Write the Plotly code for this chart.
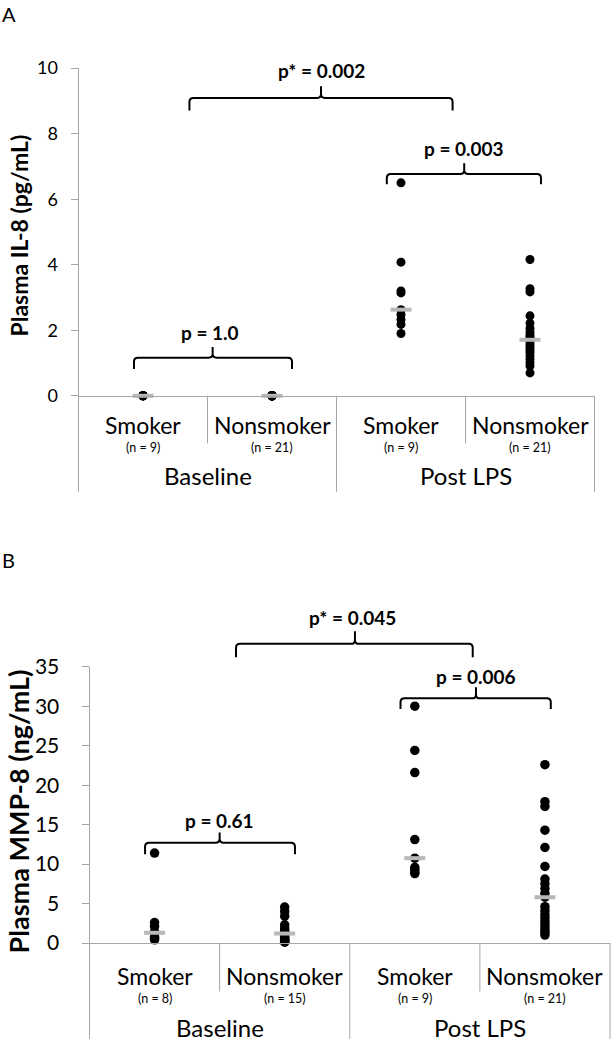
import numpy as np
import plotly.graph_objects as go

# ---------------- data ----------------
subgroups = ["Smoker", "Nonsmoker", "Smoker", "Nonsmoker"]
groups = ["Baseline", "Post LPS"]
il8_n = ["(n = 9)", "(n = 21)", "(n = 9)", "(n = 21)"]
mmp8_n = ["(n = 8)", "(n = 15)", "(n = 9)", "(n = 21)"]

il8_base_smoker = [0, 0, 0, 0, 0, 0, 0, 0, 0]
il8_base_nonsmoker = [0, 0, 0, 0, 0, 0, 0, 0, 0, 0, 0, 0, 0, 0, 0, 0, 0, 0, 0, 0, 0]
il8_lps_smoker = [6.50, 4.08, 3.20, 3.14, 2.63, 2.48, 2.33, 2.18, 1.90]
il8_lps_nonsmoker = [4.16, 3.27, 3.17, 2.44, 2.22, 2.06, 1.95, 1.86, 1.80, 1.75, 1.71,
                     1.65, 1.56, 1.48, 1.40, 1.32, 1.22, 1.12, 1.02, 0.91, 0.70]

mmp8_base_smoker = [11.4, 2.6, 2.1, 1.4, 1.2, 0.8, 0.6, 0.4]
mmp8_base_nonsmoker = [4.55, 4.0, 3.4, 2.3, 1.9, 1.6, 1.4, 1.2, 0.9, 0.7, 0.5, 0.4, 0.3, 0.2, 0.1]
mmp8_lps_smoker = [30.0, 24.4, 21.6, 13.1, 10.75, 9.6, 9.3, 9.0, 8.8]
mmp8_lps_nonsmoker = [22.6, 17.9, 17.3, 14.3, 12.1, 9.7, 8.1, 7.5, 6.9, 6.3, 5.8,
                      4.6, 4.1, 3.6, 3.2, 2.8, 2.4, 2.0, 1.6, 1.3, 1.0]

il8_yticks = [0, 2, 4, 6, 8, 10]
mmp8_yticks = [0, 5, 10, 15, 20, 25, 30, 35]

il8_p_labels = ["p = 1.0", "p = 0.003", "p* = 0.002"]
mmp8_p_labels = ["p = 0.61", "p = 0.006", "p* = 0.045"]

il8_title = "Plasma IL-8 (pg/mL)"
mmp8_title = "Plasma MMP-8 (ng/mL)"

# ---------------- layout geometry ----------------
W, H = 611, 1050
FONT = "Lato"
AXC = "#a6a6a6"


def py(px):
    return 1 - px / H


def pxx(px):
    return px / W


# bracket placements: (x_left, x_right, x_tip, y_hline, y_hook, y_tip, text_x, text_y)
il8_brackets = [
    (-0.07, 1.155, 0.54, 1.16, 0.82, 1.49, 0.52, 1.93),
    (1.89, 3.085, 2.49, 6.77, 6.46, 7.10, 2.49, 7.55),
    (0.36, 2.40, 1.38, 9.09, 8.71, 9.45, 1.38, 9.92),
]
mmp8_brackets = [
    (-0.073, 1.079, 0.50, 12.7, 11.25, 14.0, 0.50, 15.5),
    (1.89, 3.045, 2.47, 31.0, 29.65, 32.4, 2.47, 33.8),
    (0.626, 2.445, 1.54, 37.9, 36.2, 39.5, 1.52, 41.2),
]

panels = [
    dict(series=[il8_base_smoker, il8_base_nonsmoker, il8_lps_smoker, il8_lps_nonsmoker],
         n=il8_n, yticks=il8_yticks, plabels=il8_p_labels, brackets=il8_brackets,
         title=il8_title, xdom=[pxx(78.5), pxx(594.5)], ydom=[py(400), py(49)],
         yrange=[0, 10.6], ax="", tickfs=18, catfs=23, nfs=12.5, grpfs=24, titlefs=23,
         standoff=9, msize=9, cx=0.031, cy=0.12,
         cat_y=429, n_y=452, grp_y=481, short_end=448, long_end=497, title_xy=(19, 238),
         letter="A", letter_y=14),
    dict(series=[mmp8_base_smoker, mmp8_base_nonsmoker, mmp8_lps_smoker, mmp8_lps_nonsmoker],
         n=mmp8_n, yticks=mmp8_yticks, plabels=mmp8_p_labels, brackets=mmp8_brackets,
         title=mmp8_title, xdom=[pxx(89.5), pxx(610)], ydom=[py(953), py(610)],
         yrange=[0, 43], ax="2", tickfs=21, catfs=23, nfs=12.5, grpfs=24, titlefs=27,
         standoff=18, msize=9.5, cx=0.031, cy=0.5,
         cat_y=986, n_y=1009, grp_y=1038, short_end=1002, long_end=1050, title_xy=(18, 820),
         letter="B", letter_y=566),
]

fig = go.Figure()
shapes = []
annotations = []
layout_axes = {}

for p in panels:
    xa, ya = "x" + p["ax"], "y" + p["ax"]
    xdomref = xa + " domain"
    # points
    for i, vals in enumerate(p["series"]):
        fig.add_trace(go.Scatter(
            x=[i] * len(vals), y=vals, mode="markers", xaxis=xa, yaxis=ya,
            marker=dict(color="black", size=p["msize"]), cliponaxis=False,
            showlegend=False, hoverinfo="skip"))
    # medians
    for i, vals in enumerate(p["series"]):
        fig.add_trace(go.Scatter(
            x=[i], y=[float(np.median(vals))], mode="markers", xaxis=xa, yaxis=ya,
            marker=dict(symbol="line-ew", size=15, line=dict(width=4, color="#b8b8b8")),
            cliponaxis=False, showlegend=False, hoverinfo="skip"))

    # y-axis line (0 .. top tick)
    shapes.append(dict(type="line", xref=xdomref, yref=ya, x0=0, x1=0,
                       y0=0, y1=p["yticks"][-1], line=dict(color=AXC, width=1)))
    # category separators below axis
    ax_px = (1 - p["ydom"][0]) * H
    for b in [-0.5, 0.5, 1.5, 2.5, 3.5]:
        long_line = b in (-0.5, 1.5, 3.5)
        end = p["long_end"] if long_line else p["short_end"]
        shapes.append(dict(type="line", xref=xdomref, yref="paper",
                           x0=(b + 0.5) / 4, x1=(b + 0.5) / 4,
                           y0=py(ax_px), y1=py(end), line=dict(color=AXC, width=1)))
    # category labels
    for i, name in enumerate(subgroups):
        annotations.append(dict(xref=xa, yref="paper", x=i, y=py(p["cat_y"]), text=name,
                                showarrow=False, font=dict(family=FONT, size=p["catfs"], color="black"),
                                xanchor="center", yanchor="middle", borderpad=0))
        annotations.append(dict(xref=xa, yref="paper", x=i, y=py(p["n_y"]), text=p["n"][i],
                                showarrow=False, font=dict(family=FONT, size=p["nfs"], color="black"),
                                xanchor="center", yanchor="middle", borderpad=0))
    for g, name in enumerate(groups):
        annotations.append(dict(xref=xa, yref="paper", x=2 * g + 0.5, y=py(p["grp_y"]), text=name,
                                showarrow=False, font=dict(family=FONT, size=p["grpfs"], color="black"),
                                xanchor="center", yanchor="middle"))
    # brackets + p labels
    cx, cy = p["cx"], p["cy"]
    for (x0, x1, xt, yh, yb, yt, tx, ty), lab in zip(p["brackets"], p["plabels"]):
        path = (f"M {x0},{yb} L {x0},{yh - cy} Q {x0},{yh} {x0 + cx},{yh} "
                f"L {xt - cx},{yh} Q {xt},{yh} {xt},{yh + cy} L {xt},{yt} "
                f"L {xt},{yh + cy} Q {xt},{yh} {xt + cx},{yh} "
                f"L {x1 - cx},{yh} Q {x1},{yh} {x1},{yh - cy} L {x1},{yb}")
        shapes.append(dict(type="path", xref=xa, yref=ya, path=path,
                           line=dict(color="black", width=2), fillcolor="rgba(0,0,0,0)"))
        annotations.append(dict(xref=xa, yref=ya, x=tx, y=ty, text="<b>" + lab + "</b>",
                                showarrow=False, font=dict(family=FONT, size=19, color="black"),
                                xanchor="center", yanchor="middle"))
    # axis title
    tx_, ty_ = p["title_xy"]
    annotations.append(dict(xref="paper", yref="paper", x=pxx(tx_), y=py(ty_),
                            text="<b>" + p["title"] + "</b>", textangle=-90, showarrow=False,
                            font=dict(family=FONT, size=p["titlefs"], color="black"),
                            xanchor="center", yanchor="middle"))
    # panel letter
    annotations.append(dict(xref="paper", yref="paper", x=0, y=py(p["letter_y"]),
                            text=p["letter"], showarrow=False,
                            font=dict(family=FONT, size=20, color="black"),
                            xanchor="left", yanchor="middle"))

    layout_axes["xaxis" + p["ax"]] = dict(
        domain=p["xdom"], range=[-0.5, 3.5], anchor=ya, showline=True, linecolor=AXC,
        linewidth=1, showticklabels=False, ticks="", showgrid=False, zeroline=False,
        fixedrange=True)
    layout_axes["yaxis" + p["ax"]] = dict(
        domain=p["ydom"], range=p["yrange"], anchor=xa, tickvals=p["yticks"],
        ticks="outside", ticklen=7, tickcolor=AXC, tickwidth=1, showline=False,
        showgrid=False, zeroline=False, ticklabelstandoff=p["standoff"],
        tickfont=dict(family=FONT, size=p["tickfs"], color="black"), fixedrange=True)

fig.update_layout(
    width=W, height=H, margin=dict(l=0, r=0, t=0, b=0),
    paper_bgcolor="white", plot_bgcolor="white",
    shapes=shapes, annotations=annotations, showlegend=False,
    font=dict(family=FONT),
    **layout_axes,
)

fig.write_html("out.html", config={"displayModeBar": False},
               post_script="document.body.style.margin='0';document.body.style.overflow='hidden';")
